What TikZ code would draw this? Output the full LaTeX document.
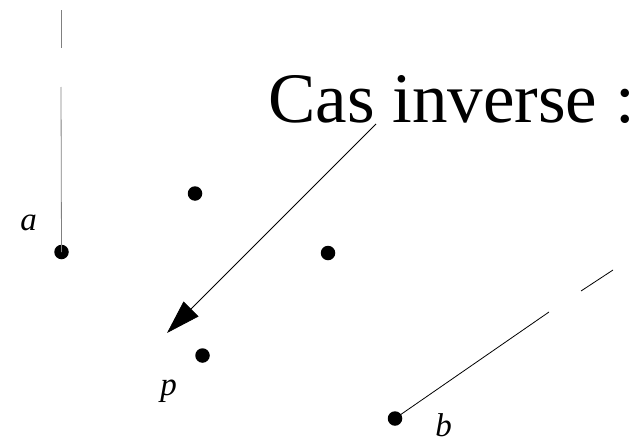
\documentclass[tikz,border=0pt]{standalone}
\usepackage{fontspec}
\setmainfont{Liberation Serif}
\usetikzlibrary{arrows.meta}
\tikzset{
  pt/.style={circle,fill=black,inner sep=0pt,minimum size=14.5pt},
  lbl/.style={inner sep=0pt,anchor=base,font=\fontsize{33}{36}\selectfont\itshape},
  seg/.style={line width=0.8pt},
}
\begin{document}
\begin{tikzpicture}[x=1pt,y=-1pt]
\useasboundingbox (0,0) rectangle (636,436);
% points
\node[pt] (A) at (61.5,252) {};
\node[pt] (Q1) at (195,193.5) {};
\node[pt] (Q2) at (328,253) {};
\node[pt] (P) at (202.5,355.5) {};
\node[pt] (B) at (395,418.5) {};
% labels
\node[lbl] (la) at (28.5,230) {a};
\node[lbl] (lp) at (168.5,395) {p};
\node[lbl] (lb) at (443.5,436) {b};
% line through a
\coordinate (a1) at (61,87);
\coordinate (a2) at (61,48);
\coordinate (a3) at (61,10);
\draw[seg,gray] (A.center) -- (a1);
\draw[seg,gray] (a2) -- (a3);
% line through b
\coordinate (b1) at (549,312);
\coordinate (b2) at (581,291);
\coordinate (b3) at (613,270);
\draw[seg] (B.center) -- (b1);
\draw[seg] (b2) -- (b3);
% title
\node[anchor=base west,inner sep=0pt,font=\fontsize{71}{80}\selectfont] (T) at (268,122) {Cas inverse :};
% arrow
\coordinate (s) at (376,124);
\coordinate (t) at (167,333);
\draw[seg,-{Triangle[length=34pt,width=21pt]}] (s) -- (t);
\end{tikzpicture}
\end{document}
